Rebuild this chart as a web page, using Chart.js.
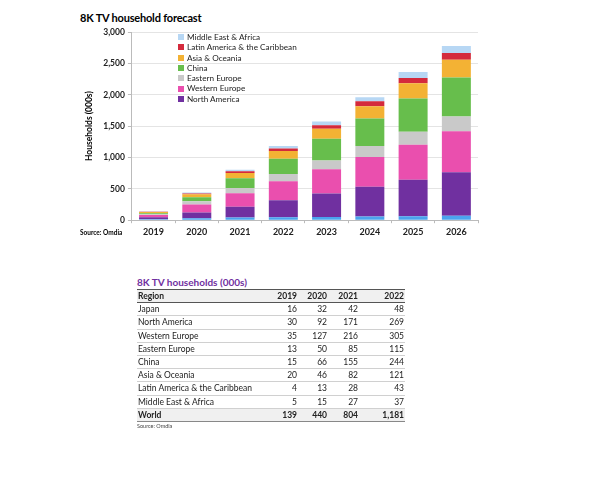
<!DOCTYPE html>
<html>
<head>
<meta charset="utf-8">
<script src="https://cdn.jsdelivr.net/npm/chart.js@4"></script>
<style>
  body { margin: 0; width: 600px; height: 494px; background: #fff; font-family: Lato, "Open Sans", sans-serif; position: relative; overflow: hidden; }
  #title { position: absolute; left: 80px; top: 11px; font-size: 11px; font-weight: bold; color: #000; letter-spacing: -0.2px; }
  #source { position: absolute; left: 80px; top: 229px; font-size: 6.5px; font-weight: bold; color: #000; }
  #wrap { position: absolute; left: 84px; top: 24px; width: 398px; height: 216px; }
  #legend { position: absolute; left: 178px; top: 32px; font-size: 8.2px; color: #222; line-height: 10.3px; }
  #legend div { display: flex; align-items: center; white-space: nowrap; }
  #legend span.box { display: inline-block; width: 6px; height: 6px; margin-right: 3px; }
  #tbl { position: absolute; left: 137px; top: 276px; width: 268px; }
  #tbl .cap { font-size: 10px; font-weight: bold; color: #7030a0; margin-bottom: 1px; }
  table { border-collapse: collapse; width: 268px; font-size: 8.5px; color: #222; table-layout: fixed; }
  td, th { padding: 0 1px; height: 12.2px; line-height: 12px; border-bottom: 0.8px solid #d0d0d0; overflow: hidden; white-space: nowrap; }
  th { text-align: right; font-weight: bold; background: #f0f0f0; border-top: 1px solid #555; border-bottom: 1px solid #555; }
  th:first-child, td:first-child { text-align: left; }
  td { text-align: right; }
  tr.world td { font-weight: bold; background: #f0f0f0; border-top: 1px solid #555; border-bottom: 1px solid #888; }
  #tsrc { font-size: 5.5px; color: #444; margin-top: 1px; }
</style>
</head>
<body>
<div id="title">8K TV household forecast</div>
<div id="wrap"><canvas id="c"></canvas></div>
<div id="legend"></div>
<div id="source">Source: Omdia</div>
<div id="tbl">
  <div class="cap">8K TV households (000s)</div>
  <table id="t">
    <colgroup><col style="width:130px"><col style="width:31px"><col style="width:30px"><col style="width:31px"><col style="width:46px"></colgroup>
  </table>
  <div id="tsrc">Source: Omdia</div>
</div>
<script>
const years = ['2019', '2020', '2021', '2022', '2023', '2024', '2025', '2026'];

const japan = [16, 32, 42, 48, 53, 58, 64, 69];
const northAmerica = [30, 92, 171, 269, 371, 477, 583, 694];
const westernEurope = [35, 127, 216, 305, 387, 472, 556, 657];
const easternEurope = [13, 50, 85, 115, 143, 175, 207, 234];
const china = [15, 66, 155, 244, 345, 440, 530, 620];
const asiaOceania = [20, 46, 82, 121, 159, 196, 244, 286];
const latinAmerica = [4, 13, 28, 43, 58, 79, 84, 106];
const middleEastAfrica = [5, 15, 27, 37, 58, 64, 96, 111];

const tableYears = ['2019', '2020', '2021', '2022'];
const worldTotals = [139, 440, 804, 1181];

const series = [
  { label: 'Japan', data: japan, color: '#4ba3ee', legend: false },
  { label: 'North America', data: northAmerica, color: '#7030a0', legend: true },
  { label: 'Western Europe', data: westernEurope, color: '#ea4fae', legend: true },
  { label: 'Eastern Europe', data: easternEurope, color: '#c9c9c9', legend: true },
  { label: 'China', data: china, color: '#67be4c', legend: true },
  { label: 'Asia & Oceania', data: asiaOceania, color: '#f3b234', legend: true },
  { label: 'Latin America & the Caribbean', data: latinAmerica, color: '#d42a3c', legend: true },
  { label: 'Middle East & Africa', data: middleEastAfrica, color: '#b7d7f4', legend: true }
];

const fontFam = 'Lato, "Open Sans", sans-serif';

new Chart(document.getElementById('c'), {
  type: 'bar',
  data: {
    labels: years,
    datasets: series.map(s => ({
      label: s.label,
      data: s.data,
      backgroundColor: s.color,
      borderWidth: 0,
      barPercentage: 0.67,
      categoryPercentage: 1
    }))
  },
  options: {
    responsive: true,
    maintainAspectRatio: false,
    animation: false,
    layout: { padding: { top: 4, right: 4 } },
    plugins: { legend: { display: false }, tooltip: { enabled: false } },
    scales: {
      x: {
        stacked: true,
        grid: { display: true, drawOnChartArea: false, color: '#bbb', tickLength: 3, offset: true },
        border: { color: '#bbb' },
        ticks: { color: '#222', font: { family: fontFam, size: 9, weight: 'bold' }, padding: 3 }
      },
      y: {
        stacked: true,
        min: 0,
        max: 3000,
        grid: { color: '#e4e4e4', tickLength: 4, tickColor: '#bbb' },
        border: { color: '#bbb' },
        ticks: {
          stepSize: 500,
          color: '#222',
          font: { family: fontFam, size: 8.5, weight: 'bold' },
          padding: 3,
          callback: v => v.toLocaleString('en-US')
        },
        title: {
          display: true,
          text: 'Households (000s)',
          color: '#000',
          font: { family: fontFam, size: 8.5, weight: 'bold' },
          padding: { top: 0, bottom: 6 }
        }
      }
    }
  }
});

// legend, top entry first as in the picture
const lg = document.getElementById('legend');
series.filter(s => s.legend).slice().reverse().forEach(s => {
  const d = document.createElement('div');
  d.innerHTML = '<span class="box" style="background:' + s.color + '"></span>' + s.label;
  lg.appendChild(d);
});

// table
const t = document.getElementById('t');
let html = '<tr><th>Region</th>' + tableYears.map(y => '<th>' + y + '</th>').join('') + '</tr>';
series.forEach(s => {
  html += '<tr><td>' + s.label + '</td>' + tableYears.map((y, i) => '<td>' + s.data[i].toLocaleString('en-US') + '</td>').join('') + '</tr>';
});
html += '<tr class="world"><td>World</td>' + worldTotals.map(v => '<td>' + v.toLocaleString('en-US') + '</td>').join('') + '</tr>';
t.insertAdjacentHTML('beforeend', html);
</script>
</body>
</html>
